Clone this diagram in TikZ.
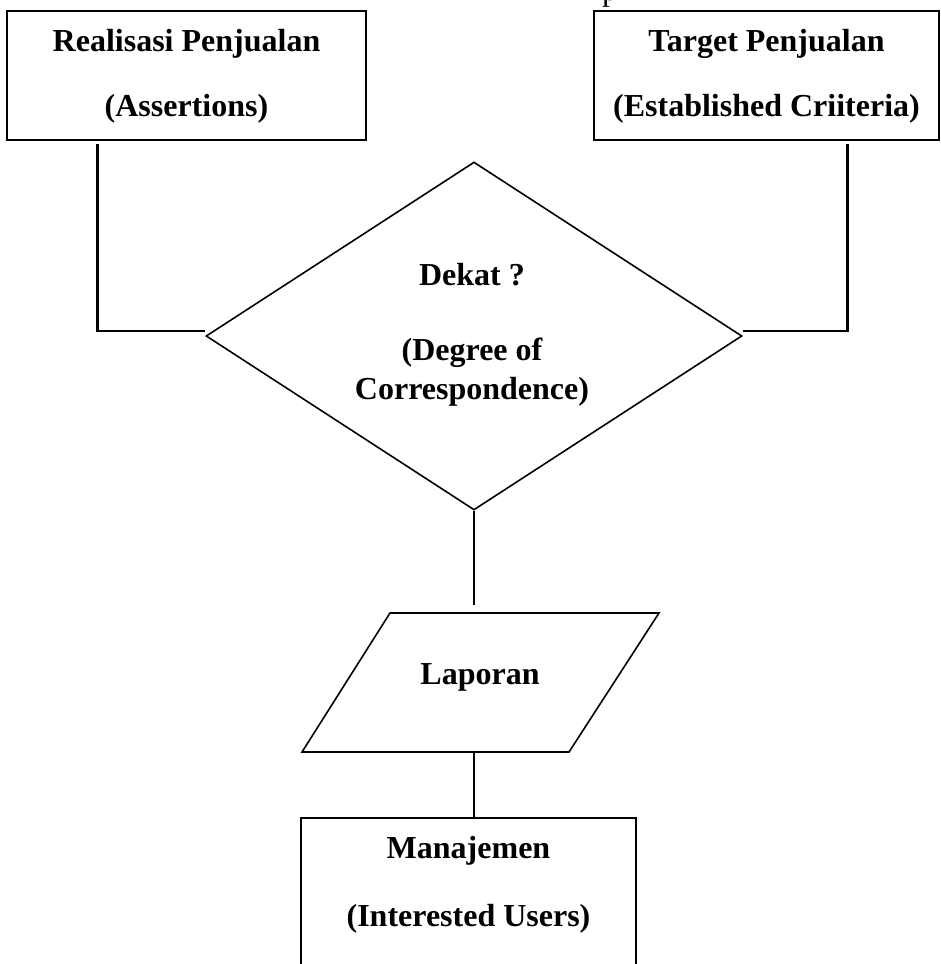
\documentclass[tikz,border=0pt]{standalone}
\usepackage{fontspec}
\setmainfont{Liberation Serif}
\usetikzlibrary{shapes.geometric,calc}

\tikzset{
  box/.style={draw, line width=1.6pt, inner sep=0pt},
  lbl/.style={font=\fontsize{32}{38}\selectfont\bfseries, inner sep=0pt, anchor=base},
  wire/.style={line width=2.6pt},
}

\begin{document}
\begin{tikzpicture}[x=1pt,y=-1pt]
\useasboundingbox (0,0) rectangle (941,964);
% cut-off letter at the top edge
\node[anchor=base, inner sep=0pt, font=\fontsize{32}{38}\selectfont] (cut) at (610,0) {p};
% boxes: assertions (left), criteria (right)
\node[box, minimum width=359pt, minimum height=129pt] (real) at (186.5,75.5) {};
\node[box, minimum width=345pt, minimum height=129pt] (target) at (766.5,75.5) {};
\node[lbl] (realA) at (186.5,51) {Realisasi Penjualan};
\node[lbl] (realB) at (186.5,116) {(Assertions)};
\node[lbl] (targetA) at (766.5,51) {Target Penjualan};
\node[lbl] (targetB) at (766.5,116) {(Established Criiteria)};
% decision
\node[box, diamond, minimum width=536pt, minimum height=348pt] (dekat) at (474,336) {};
\node[lbl] (dekatA) at (472,285) {Dekat ?};
\node[lbl] (dekatB) at (472,360) {(Degree of};
\node[lbl] (dekatC) at (472,399) {Correspondence)};
% report (parallelogram)
\draw[line width=1.6pt] (390,613) coordinate (lapNW) -- (659,613) -- (569,752)
  -- (302,752) -- cycle;
\coordinate (lapin) at (474,605);
\coordinate (lapout) at (474,752);
\node[lbl] (lap) at (480,684) {Laporan};
% users box, runs off the bottom edge
\node[box, minimum width=335pt, minimum height=200pt, anchor=north] (mgr) at (468.5,817) {};
\node[lbl] (mgrA) at (468.5,858) {Manajemen};
\node[lbl] (mgrB) at (468.5,926) {(Interested Users)};
% connectors
\draw[wire] ($(real.south west)+(91,3)$) |- ($(dekat.west)+(0,-5)$);
\draw[wire] ($(target.south west)+(254,3)$) |- ($(dekat.east)+(0,-5)$);
\draw[wire] (dekat.south) -- (lapin);
\draw[wire] (lapout) -- (lapout |- mgr.north);
\end{tikzpicture}
\end{document}
